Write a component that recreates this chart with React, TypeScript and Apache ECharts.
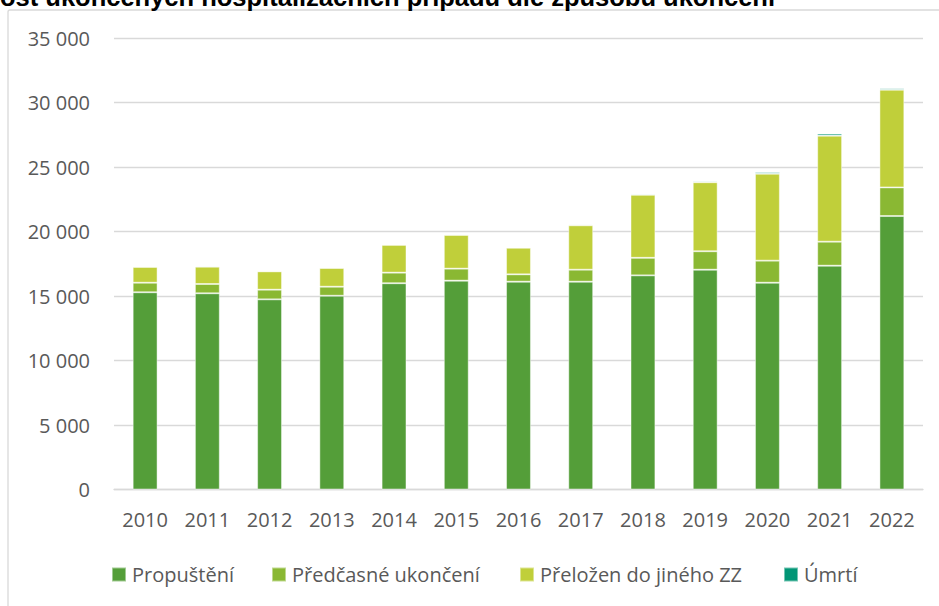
import React, { useEffect, useRef } from "react";
import * as echarts from "echarts";

const years = ["2010", "2011", "2012", "2013", "2014", "2015", "2016", "2017", "2018", "2019", "2020", "2021", "2022"];
const propusteni = [15290, 15210, 14740, 15020, 15990, 16190, 16110, 16110, 16600, 17040, 16030, 17350, 21200];
const predcasne = [740, 720, 750, 700, 820, 930, 570, 930, 1360, 1430, 1710, 1860, 2220];
const prelozen = [1220, 1340, 1420, 1450, 2150, 2610, 2060, 3440, 4880, 5350, 6740, 8220, 7570];
const umrti = [75, 80, 60, 70, 75, 80, 70, 80, 85, 90, 120, 160, 110];

const seriesNames = ["Propuštění", "Předčasné ukončení", "Přeložen do jiného ZZ", "Úmrtí"];
const seriesData = [propusteni, predcasne, prelozen, umrti];
const colors = ["#549E39", "#8AB833", "#C0CF3A", "#029676"];
const legendLefts = [111, 271, 519, 783];
const titleText = "ost ukončených hospitalizačních případů dle způsobu ukončení";

const FONT = "'Open Sans', sans-serif";
const TXT = "#595959";

export default function App() {
  const ref = useRef<HTMLDivElement>(null);
  useEffect(() => {
    if (!ref.current) return;
    const chart = echarts.init(ref.current, null, { renderer: "svg" });
    chart.setOption({
      animation: false,
      backgroundColor: "#ffffff",
      textStyle: { fontFamily: FONT },
      grid: { left: 114, right: 16, top: 38, bottom: 116.5 },
      legend: seriesNames.map((n, i) => ({
        data: [n],
        left: legendLefts[i],
        top: 564.5,
        padding: 0,
        itemWidth: 14,
        itemHeight: 14,
        icon: "rect",
        selectedMode: false,
        textStyle: { color: TXT, fontSize: 20, fontFamily: FONT, padding: [0, 0, 0, 1] },
      })),
      xAxis: {
        type: "category",
        data: years,
        axisTick: { show: false },
        axisLine: { lineStyle: { color: "#d9d9d9", width: 1.3 } },
        axisLabel: { color: TXT, fontSize: 20, margin: 20, fontFamily: FONT },
      },
      yAxis: {
        type: "value",
        min: 0,
        max: 35000,
        interval: 5000,
        axisLine: { show: false },
        axisTick: { show: false },
        splitLine: { lineStyle: { color: "#d9d9d9", width: 1.3 } },
        axisLabel: {
          color: TXT,
          fontSize: 20,
          margin: 24,
          fontFamily: FONT,
          formatter: (v: number) => String(v).replace(/\B(?=(\d{3})+(?!\d))/g, " "),
        },
      },
      series: seriesNames.map((n, i) => ({
        name: n,
        type: "bar",
        stack: "total",
        data: seriesData[i],
        barWidth: "40%",
        itemStyle: { color: colors[i], borderColor: "rgba(255,255,255,0.45)", borderWidth: 1 },
      })),
      graphic: [
        {
          type: "rect",
          shape: { x: 8, y: 10, width: 1000, height: 700, r: 2 },
          style: { fill: "none", stroke: "#d9d9d9", lineWidth: 1.3 },
          silent: true,
        },
        {
          type: "text",
          x: 0,
          y: 10,
          style: {
            text: titleText,
            fill: "#000000",
            font: "bold 25.5px 'Liberation Sans', Arial, sans-serif",
            textAlign: "left",
            textVerticalAlign: "bottom",
          },
          silent: true,
        },
      ],
    });
    return () => chart.dispose();
  }, []);
  return (
    <div
      ref={ref}
      style={{ position: "fixed", left: 0, top: 0, width: 939, height: 606 }}
    />
  );
}
